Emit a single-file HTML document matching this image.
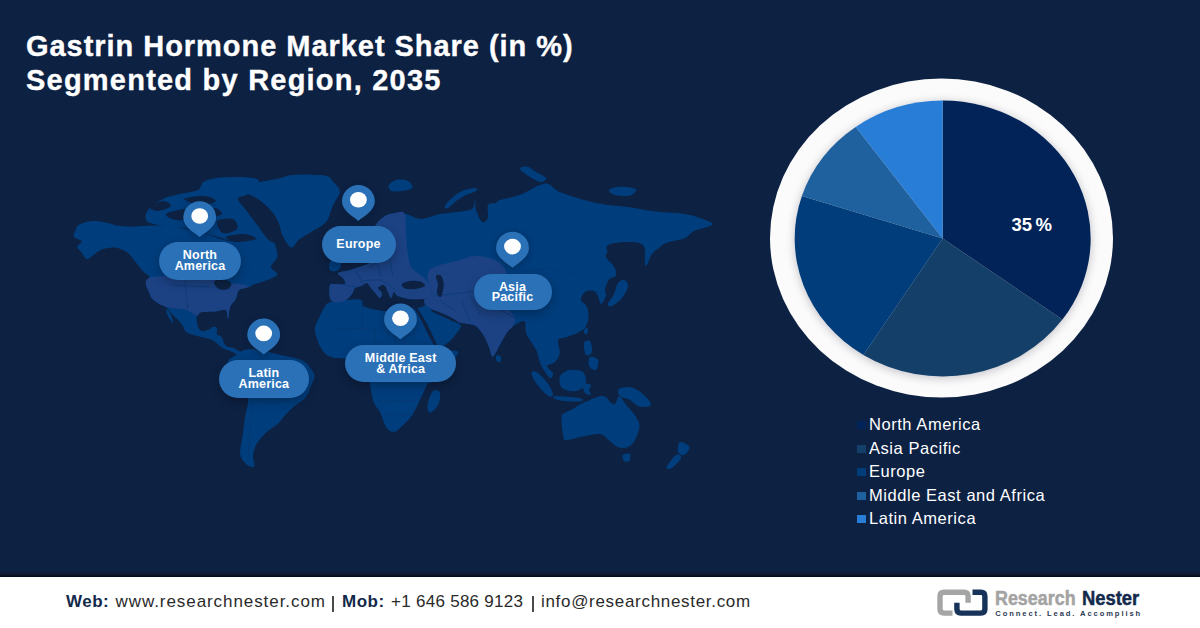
<!DOCTYPE html>
<html><head><meta charset="utf-8">
<style>
html,body{margin:0;padding:0}
body{width:1200px;height:628px;overflow:hidden;position:relative;background:#0d2143;font-family:"Liberation Sans",sans-serif}
#title{position:absolute;left:26px;top:28.7px;color:#fff;font-weight:bold;font-size:29px;line-height:34.8px;letter-spacing:0.96px;white-space:nowrap;-webkit-text-stroke:0.35px #fff}
#map{position:absolute;left:0;top:0}
.pill{position:absolute;background:#2b71b7;border-radius:20px;color:#fff;font-weight:bold;font-size:12.5px;line-height:10.8px;letter-spacing:0.2px;text-align:center;display:flex;align-items:center;justify-content:center;box-shadow:0 4px 10px rgba(0,0,0,0.25)}
#pie{position:absolute;left:0;top:0}
#legend{position:absolute;left:857px;top:413px;color:#fff;font-size:16.5px;line-height:23.5px;letter-spacing:0.55px}
#legend div{position:relative;padding-left:12px;white-space:nowrap}
#legend i{position:absolute;left:0;top:8px;width:9px;height:8px}
#footer{position:absolute;left:0;top:576.5px;width:1200px;height:52px;background:#fff}
.ft{position:absolute;top:591.5px;font-size:17px;line-height:20px;color:#2a2a2a;white-space:nowrap}
.bar{position:absolute;top:595.5px;width:1.4px;height:16px;background:#4a4a4a}
</style></head><body>
<div id="title">Gastrin Hormone Market Share (in %)<br><span style="letter-spacing:1.22px">Segmented by Region, 2035</span></div>

<svg id="map" width="1200" height="628" viewBox="0 0 1200 628">
<defs><filter id="soft" x="-5%" y="-5%" width="110%" height="110%"><feGaussianBlur stdDeviation="0.6"/></filter></defs>
<g id="land" filter="url(#soft)">
<g fill="#023e7b">
<path d="M79.5,224.5C82.3,223.2 87.9,221.3 92.9,221.1C97.9,220.9 105.5,222.7 109.6,223.4C113.7,224.2 113.7,225.1 117.4,225.6C121.1,226.1 125.8,226.7 131.9,226.7C138.0,226.7 147.6,225.7 154.2,225.6C160.8,225.5 166.4,225.4 171.5,226.0C176.6,226.6 180.6,228.2 185.0,229.0C189.4,229.8 193.5,229.8 198.0,231.0C202.5,232.2 207.0,234.3 212.0,236.0C217.0,237.7 222.3,240.2 228.0,241.0C233.7,241.8 241.0,241.0 246.0,241.0C251.0,241.0 253.7,241.2 258.0,241.0C262.3,240.8 268.8,237.6 272.0,240.0C275.2,242.4 277.6,251.2 277.4,255.7C277.2,260.2 271.0,263.7 271.0,266.9C271.0,270.1 278.9,272.3 277.4,274.8C275.9,277.3 265.8,280.5 262.0,282.0C258.2,283.5 256.9,283.2 254.7,284.0C252.5,284.8 251.6,286.0 249.0,287.0C246.4,288.0 241.3,288.0 239.1,290.0C236.9,292.0 237.3,296.1 235.8,298.9C234.3,301.7 231.5,303.3 230.2,306.7C228.9,310.1 228.7,318.4 228.0,319.0C227.3,319.6 227.7,311.3 225.8,310.0C224.0,308.7 221.0,310.8 216.9,311.2C212.8,311.6 204.7,311.6 201.3,312.3C198.0,313.0 197.4,313.2 196.8,315.6C196.2,318.0 197.0,324.2 197.9,326.8C198.8,329.4 200.4,330.8 202.4,331.2C204.4,331.6 208.5,329.7 210.2,329.0C211.9,328.3 211.3,327.0 212.4,326.8C213.5,326.6 216.2,326.6 216.9,327.9C217.7,329.2 216.2,333.1 216.9,334.6C217.6,336.1 219.8,335.0 221.3,336.8C222.8,338.6 223.8,343.8 225.8,345.7C227.9,347.6 231.2,346.9 233.6,348.0C236.0,349.1 239.1,350.8 240.0,352.0C240.9,353.2 240.7,355.2 239.1,355.0C237.5,354.8 233.0,352.2 230.2,351.0C227.4,349.8 225.4,349.8 222.4,348.0C219.4,346.2 216.1,342.0 212.4,340.1C208.7,338.2 204.4,338.1 200.1,336.8C195.8,335.5 190.0,334.5 186.8,332.3C183.7,330.1 183.7,326.4 181.2,323.4C178.7,320.3 174.6,316.8 172.0,314.0C169.4,311.2 168.2,308.6 165.6,306.7C163.0,304.8 159.3,304.3 156.7,302.3C154.1,300.3 151.2,298.6 150.0,294.5C148.8,290.4 150.9,281.9 149.7,278.0C148.5,274.1 145.6,274.3 143.0,271.3C140.4,268.3 136.7,263.3 134.1,260.2C131.5,257.1 130.2,254.4 127.4,252.4C124.6,250.4 120.7,248.7 117.4,247.9C114.1,247.2 110.6,247.4 107.4,247.9C104.2,248.4 101.8,249.3 98.4,251.2C95.1,253.0 90.1,258.8 87.3,259.0C84.5,259.2 83.4,254.4 81.7,252.4C80.0,250.4 77.3,248.7 77.3,246.8C77.3,244.9 82.3,242.9 81.7,241.2C81.1,239.5 74.8,238.8 73.9,236.8C73.0,234.8 75.2,231.1 76.1,229.0C77.0,226.9 76.7,225.8 79.5,224.5Z"/>
<path d="M166.7,309.0C167.2,308.8 168.9,310.8 170.0,313.0C171.1,315.2 173.2,321.0 173.4,322.3C173.6,323.6 172.1,322.4 171.0,321.0C169.9,319.6 167.7,316.0 167.0,314.0C166.3,312.0 166.2,309.2 166.7,309.0Z"/>
<path d="M242.5,191.8C243.0,190.0 247.8,186.0 253.7,183.9C259.6,181.8 271.0,180.6 277.6,179.1C284.2,177.6 285.5,175.6 293.5,175.1C301.5,174.6 318.8,174.7 325.4,175.9C332.0,177.1 330.9,179.7 333.3,182.3C335.7,185.0 339.8,187.9 339.7,191.8C339.6,195.8 334.8,201.0 332.5,206.0C330.2,211.0 329.4,217.6 326.0,221.8C322.6,226.0 316.3,228.5 311.8,231.4C307.3,234.3 302.5,236.8 299.0,239.4C295.5,242.1 293.8,248.1 291.0,247.3C288.2,246.5 284.4,238.7 282.4,234.8C280.4,230.9 280.8,227.4 279.2,223.7C277.6,220.0 275.7,216.2 272.8,212.5C269.9,208.8 265.4,204.3 261.7,201.4C258.0,198.5 253.7,196.6 250.5,195.0C247.3,193.4 242.0,193.7 242.5,191.8Z"/>
<path d="M146.0,214.0C146.7,211.3 148.8,208.7 152.0,206.0C155.2,203.3 160.3,200.0 165.0,198.0C169.7,196.0 174.5,195.3 180.0,194.0C185.5,192.7 193.8,192.2 198.0,190.0C202.2,187.8 200.0,183.2 205.0,181.0C210.0,178.8 219.3,177.3 228.0,177.0C236.7,176.7 252.3,176.8 257.0,179.0C261.7,181.2 258.0,187.0 256.0,190.0C254.0,193.0 244.7,193.7 245.0,197.0C245.3,200.3 254.5,204.8 258.0,210.0C261.5,215.2 264.0,222.5 266.0,228.0C268.0,233.5 274.3,240.5 270.0,243.0C265.7,245.5 249.2,244.2 240.0,243.0C230.8,241.8 223.3,238.3 215.0,236.0C206.7,233.7 198.3,230.7 190.0,229.0C181.7,227.3 172.0,227.2 165.0,226.0C158.0,224.8 151.2,224.0 148.0,222.0C144.8,220.0 145.3,216.7 146.0,214.0Z"/>
<path d="M239.0,352.0C241.3,351.0 245.7,349.2 250.0,349.0C254.3,348.8 260.0,350.0 265.0,351.0C270.0,352.0 275.0,353.8 280.0,355.0C285.0,356.2 290.8,356.8 295.0,358.0C299.2,359.2 302.3,360.2 305.0,362.0C307.7,363.8 309.4,366.7 311.0,369.0C312.6,371.3 314.5,373.2 314.5,376.0C314.5,378.8 312.5,382.4 311.0,386.0C309.5,389.6 308.2,394.3 305.3,397.7C302.4,401.1 297.2,403.6 293.8,406.6C290.4,409.6 287.4,412.7 284.8,415.5C282.2,418.3 281.2,420.6 278.5,423.2C275.8,425.8 271.3,428.2 268.3,430.8C265.3,433.4 262.7,435.9 260.6,438.5C258.5,441.1 256.8,443.1 255.5,446.1C254.2,449.1 253.2,452.9 253.0,456.3C252.8,459.7 255.4,465.2 254.2,466.5C253.0,467.8 248.3,466.1 246.0,464.0C243.7,461.9 240.7,458.7 240.2,453.8C239.7,448.9 242.0,441.0 242.8,434.6C243.7,428.2 244.5,421.4 245.3,415.5C246.2,409.6 248.8,404.0 247.9,398.9C247.0,393.8 242.7,389.8 240.0,385.0C237.3,380.2 234.0,374.0 232.0,370.0C230.0,366.0 227.3,363.5 228.0,361.0C228.7,358.5 234.2,356.5 236.0,355.0C237.8,353.5 236.7,353.0 239.0,352.0Z"/>
<path d="M330.0,285.0C329.0,287.3 329.3,295.2 330.0,298.0C330.7,300.8 332.5,301.2 334.0,302.0C335.5,302.8 337.0,302.8 339.0,302.5C341.0,302.2 343.8,301.4 346.0,300.0C348.2,298.6 350.5,296.0 352.0,294.0C353.5,292.0 353.5,289.3 355.0,288.0C356.5,286.7 359.0,286.8 361.0,286.0C363.0,285.2 365.3,282.7 367.0,283.0C368.7,283.3 369.5,286.2 371.0,288.0C372.5,289.8 374.5,292.3 376.0,294.0C377.5,295.7 379.0,298.2 380.0,298.0C381.0,297.8 382.3,294.7 382.0,293.0C381.7,291.3 377.7,289.3 378.0,288.0C378.3,286.7 382.3,284.3 384.0,285.0C385.7,285.7 386.8,289.8 388.0,292.0C389.2,294.2 390.0,298.0 391.0,298.0C392.0,298.0 392.8,292.3 394.0,292.0C395.2,291.7 395.3,294.8 398.0,296.0C400.7,297.2 406.0,298.5 410.0,299.0C414.0,299.5 419.2,298.7 422.0,299.0C424.8,299.3 426.7,299.8 427.0,301.0C427.3,302.2 425.8,304.7 424.0,306.0C422.2,307.3 416.7,307.8 416.0,309.0C415.3,310.2 418.7,311.2 420.0,313.0C421.3,314.8 422.3,316.5 424.0,320.0C425.7,323.5 428.0,329.8 430.0,334.0C432.0,338.2 434.3,342.7 436.0,345.0C437.7,347.3 437.7,348.7 440.0,348.0C442.3,347.3 447.3,343.3 450.0,341.0C452.7,338.7 454.2,336.5 456.0,334.0C457.8,331.5 461.0,328.0 461.0,326.0C461.0,324.0 456.5,322.7 456.0,322.0C455.5,321.3 456.0,321.7 458.0,322.0C460.0,322.3 465.2,323.4 468.0,324.0C470.8,324.6 473.2,324.6 475.0,325.4C476.8,326.2 477.5,327.2 479.0,329.0C480.5,330.8 482.3,333.0 484.0,336.0C485.7,339.0 487.6,343.6 489.0,347.0C490.4,350.4 491.1,355.6 492.3,356.4C493.5,357.2 494.4,354.6 496.0,352.0C497.6,349.4 500.0,344.5 502.0,341.0C504.0,337.5 506.3,333.3 508.0,331.0C509.7,328.7 510.0,328.5 512.0,327.0C514.0,325.5 517.8,322.8 520.0,322.0C522.2,321.2 523.9,320.0 525.0,322.0C526.1,324.0 524.7,329.4 526.5,334.0C528.3,338.6 533.9,345.4 536.0,349.6C538.1,353.8 538.0,356.1 539.0,359.0C540.0,361.9 540.2,363.8 542.0,367.0C543.8,370.2 548.2,377.0 550.0,378.0C551.8,379.0 553.5,375.0 553.0,373.0C552.5,371.0 546.7,367.8 547.0,366.0C547.3,364.2 552.9,364.2 555.0,362.0C557.1,359.8 559.3,356.5 559.8,352.8C560.3,349.1 556.9,342.7 558.2,340.0C559.5,337.3 563.5,338.7 567.7,336.8C572.0,334.9 580.2,332.1 583.7,328.9C587.2,325.7 587.9,321.4 588.4,317.7C588.9,314.0 588.0,309.6 586.8,306.6C585.6,303.7 581.3,302.4 581.0,300.0C580.7,297.6 582.8,293.5 585.0,292.0C587.2,290.5 591.8,290.3 594.0,291.0C596.2,291.7 596.8,293.8 598.0,296.0C599.2,298.2 599.7,304.0 601.0,304.0C602.3,304.0 605.3,298.3 606.0,296.0C606.7,293.7 604.5,292.8 605.0,290.0C605.5,287.2 607.2,281.9 609.0,279.5C610.8,277.1 614.9,277.9 615.8,275.8C616.7,273.8 616.1,270.5 614.4,267.2C612.7,263.9 605.7,259.3 605.8,255.8C605.9,252.3 611.3,248.1 615.0,246.0C618.7,243.9 623.8,243.2 628.0,243.0C632.2,242.8 637.3,243.0 640.0,245.0C642.7,247.0 643.0,251.5 644.0,255.0C645.0,258.5 644.7,266.2 646.0,266.0C647.3,265.8 649.8,257.0 652.0,254.0C654.2,251.0 656.7,249.8 659.0,248.0C661.3,246.2 661.7,244.7 666.0,243.0C670.3,241.3 680.3,240.0 685.0,238.0C689.7,236.0 689.4,233.2 694.0,231.0C698.6,228.8 711.6,226.8 712.6,224.6C713.6,222.4 705.0,219.8 700.0,218.0C695.0,216.2 690.2,214.6 682.5,213.5C674.8,212.4 662.8,212.3 653.5,211.2C644.2,210.1 635.0,207.9 626.8,206.8C618.6,205.7 611.8,205.7 604.5,204.5C597.2,203.3 590.8,201.9 583.3,199.8C575.8,197.7 565.2,194.5 559.4,191.8C553.6,189.2 551.8,185.0 548.3,183.9C544.8,182.8 543.5,183.7 538.7,185.5C533.9,187.3 526.1,192.6 519.6,195.0C513.1,197.4 504.0,198.7 500.0,200.0C496.0,201.3 497.7,202.2 495.7,203.0C493.7,203.8 489.3,202.5 488.0,205.0C486.7,207.5 488.8,215.2 487.8,218.0C486.8,220.8 484.0,223.3 482.0,222.0C480.0,220.7 477.2,213.7 476.0,210.0C474.8,206.3 475.7,200.2 475.0,200.0C474.3,199.8 475.2,206.9 471.8,209.0C468.4,211.1 460.3,211.4 454.7,212.3C449.1,213.2 443.6,213.5 438.0,214.6C432.4,215.7 426.9,219.2 421.3,219.0C415.7,218.8 409.2,214.4 404.6,213.5C400.0,212.6 396.7,213.1 393.4,213.5C390.1,213.9 387.8,214.3 385.0,216.0C382.2,217.7 378.9,220.3 376.7,223.5C374.5,226.7 372.4,230.9 372.0,235.0C371.6,239.1 372.7,244.5 374.0,248.0C375.3,251.5 380.3,253.7 380.0,256.0C379.7,258.3 375.0,260.3 372.0,262.0C369.0,263.7 365.7,264.7 362.0,266.0C358.3,267.3 354.0,268.8 350.0,270.0C346.0,271.2 339.2,271.7 338.0,273.0C336.8,274.3 341.8,276.2 343.0,278.0C344.2,279.8 346.2,283.0 345.0,284.0C343.8,285.0 338.5,283.8 336.0,284.0C333.5,284.2 331.0,282.7 330.0,285.0Z"/>
<path d="M324.0,308.0C325.6,305.6 326.1,303.6 329.0,302.4C331.9,301.1 336.4,301.0 341.5,300.5C346.6,300.0 356.0,298.6 359.7,299.6C363.4,300.6 360.6,304.6 363.5,306.3C366.4,308.0 373.2,309.2 377.0,310.0C380.8,310.8 382.7,310.9 386.5,311.0C390.3,311.1 395.6,310.8 400.0,310.5C404.4,310.2 410.0,308.6 413.0,309.0C416.0,309.4 416.2,310.2 418.0,313.0C419.8,315.8 422.0,321.8 424.0,326.0C426.0,330.2 428.0,334.5 430.0,338.0C432.0,341.5 433.3,345.0 436.0,347.0C438.7,349.0 442.3,349.2 446.0,350.0C449.7,350.8 457.0,350.0 458.0,352.0C459.0,354.0 454.7,358.3 452.0,362.0C449.3,365.7 445.3,370.7 442.0,374.0C438.7,377.3 434.4,380.3 432.0,382.0C429.6,383.7 429.1,381.9 427.5,384.0C425.9,386.1 424.9,389.5 422.4,394.7C419.8,399.9 415.9,409.6 412.2,415.1C408.5,420.7 403.0,425.2 400.0,428.0C397.0,430.8 396.5,431.7 394.3,431.7C392.1,431.7 389.1,431.2 386.7,427.9C384.3,424.6 382.1,416.2 380.0,412.0C377.9,407.8 375.7,406.9 374.0,402.4C372.3,397.9 370.9,390.1 370.0,385.0C369.1,379.9 369.6,375.8 368.8,372.0C368.0,368.2 368.0,364.2 365.0,362.0C362.0,359.8 356.0,359.7 351.0,359.0C346.0,358.3 339.2,358.8 335.0,358.0C330.8,357.2 328.1,356.1 325.5,354.0C322.9,351.9 321.1,348.1 319.6,345.4C318.1,342.7 317.5,340.7 316.7,337.8C315.9,334.9 314.3,331.7 314.8,328.2C315.3,324.7 318.1,320.2 319.6,316.8C321.1,313.4 322.4,310.4 324.0,308.0Z"/>
<path d="M433.0,391.0C435.1,389.0 439.2,390.7 440.0,393.0C440.8,395.3 439.7,401.7 438.0,405.0C436.3,408.3 431.8,412.6 430.0,412.6C428.2,412.6 427.0,408.6 427.5,405.0C428.0,401.4 430.9,393.0 433.0,391.0Z"/>
<path d="M330.0,262.0C331.2,260.0 335.2,257.3 337.0,258.0C338.8,258.7 341.2,263.8 341.0,266.0C340.8,268.2 337.8,270.3 336.0,271.0C334.2,271.7 331.0,271.5 330.0,270.0C329.0,268.5 328.8,264.0 330.0,262.0Z"/>
<path d="M388.5,186.0C389.2,184.2 392.8,180.8 396.0,180.0C399.2,179.2 405.3,179.7 408.0,181.0C410.7,182.3 413.4,186.3 412.4,188.0C411.4,189.7 405.4,190.5 402.0,191.0C398.6,191.5 394.2,191.8 392.0,191.0C389.8,190.2 387.8,187.8 388.5,186.0Z"/>
<path d="M444.8,206.2C445.5,204.5 449.1,200.5 452.0,198.0C454.9,195.5 458.2,192.7 462.0,191.0C465.8,189.3 472.7,187.9 475.0,187.9C477.3,187.9 477.8,189.7 476.0,191.0C474.2,192.3 467.5,194.2 464.0,196.0C460.5,197.8 457.7,200.0 455.0,202.0C452.3,204.0 449.7,207.3 448.0,208.0C446.3,208.7 444.1,207.9 444.8,206.2Z"/>
<path d="M520.0,169.0C519.5,167.2 524.3,166.0 527.0,166.5C529.7,167.0 532.8,170.1 536.0,172.0C539.2,173.9 545.2,176.3 546.0,178.0C546.8,179.7 543.7,182.2 541.0,182.0C538.3,181.8 533.5,179.2 530.0,177.0C526.5,174.8 520.5,170.8 520.0,169.0Z"/>
<path d="M609.0,190.0C609.8,188.6 615.5,186.9 620.0,186.7C624.5,186.5 634.0,187.5 635.7,189.0C637.4,190.5 633.5,194.6 630.0,195.6C626.5,196.6 618.5,195.9 615.0,195.0C611.5,194.1 608.2,191.4 609.0,190.0Z"/>
<path d="M497.0,355.0C497.8,354.5 500.5,355.8 501.0,357.0C501.5,358.2 500.8,361.5 500.0,362.0C499.2,362.5 496.5,361.2 496.0,360.0C495.5,358.8 496.2,355.5 497.0,355.0Z"/>
<path d="M585.0,328.0C585.7,327.3 587.7,328.0 588.0,329.0C588.3,330.0 587.7,333.3 587.0,334.0C586.3,334.7 584.3,334.0 584.0,333.0C583.7,332.0 584.3,328.7 585.0,328.0Z"/>
<path d="M584.0,343.0C584.7,340.7 588.7,339.5 590.0,341.0C591.3,342.5 592.7,349.7 592.0,352.0C591.3,354.3 587.3,356.5 586.0,355.0C584.7,353.5 583.3,345.3 584.0,343.0Z"/>
<path d="M590.0,357.0C591.5,356.0 597.0,357.8 598.0,360.0C599.0,362.2 597.5,369.0 596.0,370.0C594.5,371.0 590.0,368.2 589.0,366.0C588.0,363.8 588.5,358.0 590.0,357.0Z"/>
<path d="M560.0,376.0C561.3,373.0 566.2,370.7 570.0,370.0C573.8,369.3 580.4,369.7 583.0,372.0C585.6,374.3 586.7,380.8 585.5,384.0C584.3,387.2 579.9,390.3 576.0,391.0C572.1,391.7 564.7,390.5 562.0,388.0C559.3,385.5 558.7,379.0 560.0,376.0Z"/>
<path d="M531.8,371.8C532.6,371.0 535.3,371.0 538.0,373.0C540.7,375.0 545.5,380.5 548.0,384.0C550.5,387.5 552.8,391.9 553.0,394.0C553.2,396.1 551.2,397.3 549.0,396.3C546.8,395.3 542.7,391.1 540.0,388.0C537.3,384.9 534.4,380.7 533.0,378.0C531.6,375.3 531.0,372.6 531.8,371.8Z"/>
<path d="M554.5,396.3C557.0,396.0 565.3,396.6 570.0,397.0C574.7,397.4 580.8,398.2 582.5,399.0C584.2,399.8 582.9,401.2 580.0,401.5C577.1,401.8 569.2,401.4 565.0,401.0C560.8,400.6 556.8,399.8 555.0,399.0C553.2,398.2 552.0,396.6 554.5,396.3Z"/>
<path d="M583.0,384.0C584.0,382.7 590.0,384.0 591.0,385.0C592.0,386.0 589.0,388.4 589.0,390.0C589.0,391.6 591.7,394.0 591.0,394.5C590.3,395.0 586.3,394.8 585.0,393.0C583.7,391.2 582.0,385.3 583.0,384.0Z"/>
<path d="M619.0,389.0C621.0,387.6 627.7,386.3 632.0,387.5C636.3,388.7 641.9,393.1 645.0,396.0C648.1,398.9 651.6,403.2 650.8,405.0C650.0,406.8 643.5,407.6 640.0,406.8C636.5,406.0 633.3,401.8 630.0,400.0C626.7,398.2 621.8,397.8 620.0,396.0C618.2,394.2 617.0,390.4 619.0,389.0Z"/>
<path d="M618.0,283.0C619.7,280.7 622.3,279.5 624.0,280.0C625.7,280.5 628.3,283.0 628.0,286.0C627.7,289.0 624.7,294.7 622.0,298.0C619.3,301.3 614.3,305.0 612.0,306.0C609.7,307.0 607.7,306.0 608.0,304.0C608.3,302.0 612.3,297.5 614.0,294.0C615.7,290.5 616.3,285.3 618.0,283.0Z"/>
<path d="M561.5,417.3C561.5,413.5 561.2,415.3 563.3,413.8C565.3,412.3 570.6,410.2 573.8,408.5C577.0,406.8 578.1,405.3 582.5,403.3C586.9,401.3 595.9,397.2 600.0,396.3C604.1,395.4 605.3,397.1 607.0,398.0C608.7,398.9 608.7,401.0 610.0,402.0C611.3,403.0 613.5,404.9 615.0,404.0C616.5,403.1 617.4,396.1 619.3,396.3C621.2,396.5 623.7,401.8 626.3,405.0C628.9,408.2 632.8,412.0 635.0,415.5C637.2,419.0 639.5,421.9 639.5,426.0C639.5,430.1 636.9,436.5 635.0,440.0C633.1,443.5 630.9,445.8 628.0,447.0C625.1,448.2 620.8,448.2 617.6,447.0C614.4,445.8 611.7,442.2 608.8,440.0C605.9,437.8 604.4,434.6 600.0,434.0C595.6,433.4 588.0,435.5 582.5,436.5C577.0,437.5 570.0,440.0 566.8,440.0C563.6,440.0 564.2,440.3 563.3,436.5C562.4,432.7 561.5,421.1 561.5,417.3Z"/>
<path d="M622.8,455.0C623.8,453.8 629.0,453.0 630.0,454.0C631.0,455.0 630.0,459.8 629.0,461.0C628.0,462.2 625.0,462.0 624.0,461.0C623.0,460.0 621.8,456.2 622.8,455.0Z"/>
<path d="M680.0,442.0C681.9,441.2 688.7,444.8 689.4,447.0C690.1,449.2 685.9,454.2 684.0,455.0C682.1,455.8 678.7,454.2 678.0,452.0C677.3,449.8 678.1,442.8 680.0,442.0Z"/>
<path d="M676.0,455.0C678.4,453.5 681.7,455.8 681.0,458.0C680.3,460.2 674.4,466.5 672.0,468.0C669.6,469.5 665.9,469.2 666.6,467.0C667.3,464.8 673.6,456.5 676.0,455.0Z"/>
</g>
<g fill="#1a4384">
<path d="M150.8,277.2C161.1,274.3 199.5,276.2 211.7,277.2C223.9,278.2 219.3,281.9 224.0,283.0C228.7,284.1 235.8,283.3 240.0,284.0C244.2,284.7 249.2,286.0 249.0,287.0C248.8,288.0 241.3,288.0 239.1,290.0C236.9,292.0 237.3,296.1 235.8,298.9C234.3,301.7 231.5,303.3 230.2,306.7C228.9,310.1 228.7,318.4 228.0,319.0C227.3,319.6 227.7,311.3 225.8,310.0C224.0,308.7 221.0,310.8 216.9,311.2C212.8,311.6 204.7,311.6 201.3,312.3C198.0,313.0 199.2,316.0 196.8,315.6C194.4,315.2 189.8,311.1 186.8,310.0C183.8,308.9 182.5,309.6 179.0,309.0C175.5,308.4 169.3,307.8 165.6,306.7C161.9,305.6 159.3,304.3 156.7,302.3C154.1,300.3 151.0,298.7 150.0,294.5C149.0,290.3 140.5,280.1 150.8,277.2Z"/>
<path d="M330.0,285.0C329.0,287.3 329.3,295.2 330.0,298.0C330.7,300.8 332.5,301.2 334.0,302.0C335.5,302.8 337.0,302.8 339.0,302.5C341.0,302.2 343.8,301.4 346.0,300.0C348.2,298.6 350.5,296.0 352.0,294.0C353.5,292.0 353.5,289.3 355.0,288.0C356.5,286.7 359.0,286.8 361.0,286.0C363.0,285.2 365.3,282.7 367.0,283.0C368.7,283.3 369.5,286.2 371.0,288.0C372.5,289.8 374.5,292.3 376.0,294.0C377.5,295.7 379.0,298.2 380.0,298.0C381.0,297.8 382.3,294.7 382.0,293.0C381.7,291.3 377.7,289.3 378.0,288.0C378.3,286.7 382.3,284.3 384.0,285.0C385.7,285.7 386.8,289.8 388.0,292.0C389.2,294.2 390.0,298.0 391.0,298.0C392.0,298.0 392.8,292.3 394.0,292.0C395.2,291.7 395.3,294.8 398.0,296.0C400.7,297.2 406.0,298.5 410.0,299.0C414.0,299.5 419.0,299.2 422.0,299.0C425.0,298.8 426.3,299.5 428.0,298.0C429.7,296.5 432.5,293.2 432.0,290.0C431.5,286.8 428.3,282.7 425.0,279.0C421.7,275.3 414.8,272.0 412.0,268.0C409.2,264.0 409.0,260.5 408.0,255.0C407.0,249.5 406.6,241.9 406.0,235.0C405.4,228.1 406.7,217.1 404.6,213.5C402.5,209.9 396.7,213.1 393.4,213.5C390.1,213.9 387.8,214.3 385.0,216.0C382.2,217.7 378.9,220.3 376.7,223.5C374.5,226.7 372.4,230.9 372.0,235.0C371.6,239.1 372.7,244.5 374.0,248.0C375.3,251.5 380.3,253.7 380.0,256.0C379.7,258.3 375.0,260.3 372.0,262.0C369.0,263.7 365.7,264.7 362.0,266.0C358.3,267.3 354.0,268.8 350.0,270.0C346.0,271.2 339.2,271.7 338.0,273.0C336.8,274.3 341.8,276.2 343.0,278.0C344.2,279.8 346.2,283.0 345.0,284.0C343.8,285.0 338.5,283.8 336.0,284.0C333.5,284.2 331.0,282.7 330.0,285.0Z"/>
<path d="M424.0,300.0C424.3,298.8 426.7,299.7 428.0,298.0C429.3,296.3 432.0,292.8 432.0,290.0C432.0,287.2 428.2,284.6 428.0,281.0C427.8,277.4 426.3,271.9 431.0,268.6C435.7,265.3 448.8,263.1 456.4,261.0C464.0,258.9 470.0,255.9 476.8,255.9C483.6,255.9 492.1,258.3 497.0,261.0C501.9,263.7 505.5,267.2 506.0,272.0C506.5,276.8 500.2,284.5 500.0,290.0C499.8,295.5 502.5,300.3 505.0,305.0C507.5,309.7 513.8,314.3 515.0,318.0C516.2,321.7 513.2,324.8 512.0,327.0C510.8,329.2 509.7,328.7 508.0,331.0C506.3,333.3 504.0,337.5 502.0,341.0C500.0,344.5 497.6,349.4 496.0,352.0C494.4,354.6 493.5,357.2 492.3,356.4C491.1,355.6 490.4,350.4 489.0,347.0C487.6,343.6 485.7,339.0 484.0,336.0C482.3,333.0 480.5,330.8 479.0,329.0C477.5,327.2 476.8,326.2 475.0,325.4C473.2,324.6 470.8,324.6 468.0,324.0C465.2,323.4 461.7,323.3 458.0,322.0C454.3,320.7 450.0,318.0 446.0,316.0C442.0,314.0 437.3,311.8 434.0,310.0C430.7,308.2 427.7,306.7 426.0,305.0C424.3,303.3 423.7,301.2 424.0,300.0Z"/>
</g>
<g fill="none" stroke="#0a3670" stroke-width="0.8" stroke-opacity="0.85" stroke-linejoin="round">
<path d="M338.0,284.0 L347.0,285.0 L355.0,287.0"/>
<path d="M356.0,271.0 L360.0,278.0 L362.0,284.0"/>
<path d="M377.0,262.0 L379.0,270.0 L381.0,277.0"/>
<path d="M390.0,258.0 L391.0,267.0 L393.0,276.0"/>
<path d="M362.0,281.0 L371.0,280.0 L381.0,280.0"/>
<path d="M381.0,280.0 L388.0,284.0 L395.0,290.0"/>
<path d="M369.0,268.0 L378.0,262.0"/>
<path d="M433.0,296.0 L452.0,294.0 L470.0,292.0 L500.0,286.0"/>
<path d="M440.0,300.0 L448.0,306.0 L455.0,311.0"/>
<path d="M462.0,300.0 L466.0,312.0 L470.0,322.0"/>
<path d="M471.0,296.0 L476.0,306.0 L481.0,316.0"/>
<path d="M490.0,306.0 L502.0,311.0 L515.0,318.0"/>
<path d="M520.0,272.0 L548.0,268.0 L580.0,276.0"/>
<path d="M334.0,329.0 L350.0,329.0 L375.0,328.0"/>
<path d="M362.6,300.0 L362.6,314.0 L362.6,328.0"/>
<path d="M375.0,328.0 L375.0,338.0 L375.0,347.0"/>
<path d="M395.0,308.0 L395.0,326.0 L395.0,345.0"/>
<path d="M414.0,305.0 L414.0,325.0 L414.0,345.0"/>
<path d="M372.0,402.0 L395.0,401.0 L420.0,400.0"/>
<path d="M385.0,415.0 L398.0,416.0 L410.0,415.0"/>
<path d="M252.0,400.0 L250.0,430.0 L248.0,460.0"/>
<path d="M255.0,400.0 L272.0,402.0 L290.0,400.0"/>
<path d="M170.0,285.0 L190.0,286.0 L211.0,287.0"/>
<path d="M185.0,278.0 L186.0,295.0 L188.0,309.0"/>
</g>
<g fill="#0d2143">
<path d="M217.0,221.0C218.7,218.7 229.7,217.7 233.0,219.0C236.3,220.3 238.7,226.7 237.0,229.0C235.3,231.3 226.3,234.3 223.0,233.0C219.7,231.7 215.3,223.3 217.0,221.0Z"/>
<path d="M226.0,237.0C227.3,235.7 239.0,233.7 244.0,234.0C249.0,234.3 257.3,237.7 256.0,239.0C254.7,240.3 241.0,242.3 236.0,242.0C231.0,241.7 224.7,238.3 226.0,237.0Z"/>
<path d="M166.0,214.0C167.5,212.2 179.0,209.5 185.0,209.0C191.0,208.5 200.2,209.5 202.0,211.0C203.8,212.5 200.3,216.5 196.0,218.0C191.7,219.5 181.0,220.7 176.0,220.0C171.0,219.3 164.5,215.8 166.0,214.0Z"/>
<path d="M184.0,199.0C184.5,197.5 198.7,195.7 204.0,196.0C209.3,196.3 216.5,199.5 216.0,201.0C215.5,202.5 206.3,205.3 201.0,205.0C195.7,204.7 183.5,200.5 184.0,199.0Z"/>
<path d="M150.0,207.0C150.8,205.3 159.5,201.2 163.0,201.0C166.5,200.8 171.8,204.3 171.0,206.0C170.2,207.7 161.5,210.8 158.0,211.0C154.5,211.2 149.2,208.7 150.0,207.0Z"/>
<path d="M205.0,212.0C205.8,210.5 212.2,207.7 215.0,208.0C217.8,208.3 222.8,212.5 222.0,214.0C221.2,215.5 212.8,217.3 210.0,217.0C207.2,216.7 204.2,213.5 205.0,212.0Z"/>
<path d="M238.0,198.0C239.3,195.7 250.0,194.8 254.0,196.0C258.0,197.2 259.0,200.7 262.0,205.0C265.0,209.3 269.2,216.2 272.0,222.0C274.8,227.8 279.3,236.8 279.0,240.0C278.7,243.2 273.5,243.3 270.0,241.0C266.5,238.7 262.0,231.2 258.0,226.0C254.0,220.8 249.3,214.7 246.0,210.0C242.7,205.3 236.7,200.3 238.0,198.0Z"/>
<path d="M214.0,282.0C214.5,280.3 219.2,278.8 222.0,279.0C224.8,279.2 230.0,281.3 231.0,283.0C232.0,284.7 230.0,288.0 228.0,289.0C226.0,290.0 221.3,290.2 219.0,289.0C216.7,287.8 213.5,283.7 214.0,282.0Z"/>
<path d="M402.0,284.0C402.8,282.8 407.0,281.4 410.0,281.0C413.0,280.6 417.5,280.7 420.0,281.5C422.5,282.3 425.8,284.8 425.0,286.0C424.2,287.2 418.3,288.6 415.0,289.0C411.7,289.4 407.2,289.3 405.0,288.5C402.8,287.7 401.2,285.2 402.0,284.0Z"/>
<path d="M436.0,276.0C436.5,274.6 439.7,274.2 441.0,275.7C442.3,277.2 443.7,281.5 443.7,285.0C443.7,288.5 442.1,295.4 441.0,296.7C439.9,298.0 437.5,295.1 437.0,293.0C436.5,290.9 438.2,286.8 438.0,284.0C437.8,281.2 435.5,277.4 436.0,276.0Z"/>
<path d="M607.0,246.0C609.2,243.3 619.0,242.2 625.0,242.0C631.0,241.8 639.8,241.7 643.0,245.0C646.2,248.3 645.2,257.5 644.0,262.0C642.8,266.5 640.0,271.0 636.0,272.0C632.0,273.0 624.0,270.3 620.0,268.0C616.0,265.7 614.2,261.7 612.0,258.0C609.8,254.3 604.8,248.7 607.0,246.0Z"/>
<path d="M433.0,310.0C435.3,310.6 442.0,313.2 446.0,315.0C450.0,316.8 455.3,319.8 457.0,321.0C458.7,322.2 458.0,323.1 456.0,322.5C454.0,321.9 449.0,319.3 445.0,317.5C441.0,315.7 434.0,312.8 432.0,311.5C430.0,310.2 430.7,309.4 433.0,310.0Z"/>
<path d="M415.0,309.0C413.8,306.2 416.0,307.0 418.0,309.5C420.0,312.0 423.8,318.1 427.0,324.0C430.2,329.9 435.5,341.3 437.0,345.0C438.5,348.7 438.0,349.2 436.0,346.0C434.0,342.8 428.5,332.2 425.0,326.0C421.5,319.8 416.2,311.8 415.0,309.0Z"/>
</g>
<path d="M242.5,191.8C243.0,190.0 247.8,186.0 253.7,183.9C259.6,181.8 271.0,180.6 277.6,179.1C284.2,177.6 285.5,175.6 293.5,175.1C301.5,174.6 318.8,174.7 325.4,175.9C332.0,177.1 330.9,179.7 333.3,182.3C335.7,185.0 339.8,187.9 339.7,191.8C339.6,195.8 334.8,201.0 332.5,206.0C330.2,211.0 329.4,217.6 326.0,221.8C322.6,226.0 316.3,228.5 311.8,231.4C307.3,234.3 302.5,236.8 299.0,239.4C295.5,242.1 293.8,248.1 291.0,247.3C288.2,246.5 284.4,238.7 282.4,234.8C280.4,230.9 280.8,227.4 279.2,223.7C277.6,220.0 275.7,216.2 272.8,212.5C269.9,208.8 265.4,204.3 261.7,201.4C258.0,198.5 253.7,196.6 250.5,195.0C247.3,193.4 242.0,193.7 242.5,191.8Z" fill="#023e7b"/>
</g>
<g id="pins">
<defs><filter id="psh" x="-50%" y="-50%" width="200%" height="200%"><feGaussianBlur stdDeviation="3"/></filter></defs>
<g fill="#081a36" opacity="0.45" filter="url(#psh)">
<path d="M199.7,238.7 C196.2,235.2 183.3,229.1 183.3,219.1 A16.4,16.4 0 0 1 216.1,219.1 C216.1,229.1 203.2,235.2 199.7,238.7Z"/>
<path d="M358.4,222.4 C354.9,218.9 342.0,212.8 342.0,202.8 A16.4,16.4 0 0 1 374.8,202.8 C374.8,212.8 361.9,218.9 358.4,222.4Z"/>
<path d="M512.5,269.3 C509.0,265.8 496.1,259.7 496.1,249.7 A16.4,16.4 0 0 1 528.9,249.7 C528.9,259.7 516.0,265.8 512.5,269.3Z"/>
<path d="M263.7,356.1 C260.2,352.6 247.3,346.5 247.3,336.5 A16.4,16.4 0 0 1 280.1,336.5 C280.1,346.5 267.2,352.6 263.7,356.1Z"/>
<path d="M400.5,340.9 C397.0,337.4 384.1,331.3 384.1,321.3 A16.4,16.4 0 0 1 416.9,321.3 C416.9,331.3 404.0,337.4 400.5,340.9Z"/>
</g>
<path d="M199.7,237.2 C196.2,233.7 183.3,227.6 183.3,217.6 A16.4,16.4 0 0 1 216.1,217.6 C216.1,227.6 203.2,233.7 199.7,237.2Z" fill="#2b71b7"/>
<ellipse cx="199.7" cy="216.0" rx="8.4" ry="7.8" fill="#fff"/>
<path d="M358.4,220.9 C354.9,217.4 342.0,211.3 342.0,201.3 A16.4,16.4 0 0 1 374.8,201.3 C374.8,211.3 361.9,217.4 358.4,220.9Z" fill="#2b71b7"/>
<ellipse cx="358.4" cy="199.7" rx="8.4" ry="7.8" fill="#fff"/>
<path d="M512.5,267.8 C509.0,264.3 496.1,258.2 496.1,248.2 A16.4,16.4 0 0 1 528.9,248.2 C528.9,258.2 516.0,264.3 512.5,267.8Z" fill="#2b71b7"/>
<ellipse cx="512.5" cy="246.6" rx="8.4" ry="7.8" fill="#fff"/>
<path d="M263.7,354.6 C260.2,351.1 247.3,345.0 247.3,335.0 A16.4,16.4 0 0 1 280.1,335.0 C280.1,345.0 267.2,351.1 263.7,354.6Z" fill="#2b71b7"/>
<ellipse cx="263.7" cy="333.4" rx="8.4" ry="7.8" fill="#fff"/>
<path d="M400.5,339.4 C397.0,335.9 384.1,329.8 384.1,319.8 A16.4,16.4 0 0 1 416.9,319.8 C416.9,329.8 404.0,335.9 400.5,339.4Z" fill="#2b71b7"/>
<ellipse cx="400.5" cy="318.2" rx="8.4" ry="7.8" fill="#fff"/>
</g>
</svg>


<div class="pill" style="left:159px;top:241.5px;width:82px;height:38px">North<br>America</div>
<div class="pill" style="left:321.5px;top:226px;width:74px;height:37px">Europe</div>
<div class="pill" style="left:473.5px;top:274.3px;width:78px;height:36px">Asia<br>Pacific</div>
<div class="pill" style="left:218.7px;top:359.5px;width:90.4px;height:38.5px">Latin<br>America</div>
<div class="pill" style="left:345.4px;top:345px;width:110.6px;height:37px">Middle East<br>&amp; Africa</div>

<svg id="pie" width="1200" height="628" viewBox="0 0 1200 628">
  <defs>
    <radialGradient id="ringsh" cx="0.5" cy="0.5" r="0.5">
      <stop offset="0.86" stop-color="#d8d8dc"/>
      <stop offset="0.9" stop-color="#fafafa"/>
      <stop offset="1" stop-color="#ffffff"/>
    </radialGradient>
  </defs>
  <ellipse cx="941.5" cy="238" rx="171.5" ry="159.5" fill="#fbfbfb"/>
  <filter id="rsh" x="-20%" y="-20%" width="140%" height="140%"><feGaussianBlur stdDeviation="4"/></filter>
  <ellipse cx="942.7" cy="240" rx="149" ry="139" fill="#c9c9cf" filter="url(#rsh)"/>
  <g id="slices">
  <path d="M942.7,238.5 L942.7,100.5 A148,138 0 0 1 1062.4,319.6 Z" fill="#012357"/>
  <path d="M942.7,238.5 L1062.4,319.6 A148,138 0 0 1 863.4,355.0 Z" fill="#143f69"/>
  <path d="M942.7,238.5 L863.4,355.0 A148,138 0 0 1 801.9,195.9 Z" fill="#003d7a"/>
  <path d="M942.7,238.5 L801.9,195.9 A148,138 0 0 1 855.7,126.9 Z" fill="#1f609e"/>
  <path d="M942.7,238.5 L855.7,126.9 A148,138 0 0 1 942.7,100.5 Z" fill="#287dd6"/>
  </g>
  <text x="1011.5" y="231" fill="#fff" font-weight="bold" font-size="18.5">35<tspan dx="3.4">%</tspan></text>
</svg>

<div id="legend">
  <div><i style="background:#012357"></i>North America</div>
  <div><i style="background:#143f69"></i>Asia Pacific</div>
  <div><i style="background:#003d7a"></i>Europe</div>
  <div><i style="background:#1f609e"></i>Middle East and Africa</div>
  <div><i style="background:#287dd6"></i>Latin America</div>
</div>

<div style="position:absolute;left:0;top:571px;width:1200px;height:5.5px;background:linear-gradient(#0d2143,#121b33 50%,#02081a)"></div>
<div id="footer"></div>
<div class="ft" style="left:66px;font-weight:bold;color:#13294b;letter-spacing:0.5px">Web:</div>
<div class="ft" style="left:115.5px;letter-spacing:0.93px">www.researchnester.com</div>
<div class="bar" style="left:332.3px"></div>
<div class="ft" style="left:342px;font-weight:bold;color:#13294b;letter-spacing:0.5px">Mob:</div>
<div class="ft" style="left:391px;letter-spacing:0.28px">+1 646 586 9123</div>
<div class="bar" style="left:532.3px"></div>
<div class="ft" style="left:541px;letter-spacing:0.69px">info@researchnester.com</div>
<svg style="position:absolute;left:0;top:0" width="1200" height="628" viewBox="0 0 1200 628">
  <path d="M952.5,613.1 L944,613.1 Q940,613.1 940,609.1 L940,596.3 Q940,592.3 944,592.3 L964.1,592.3 Q968.1,592.3 968.1,596.3 L968.1,602.8" fill="none" stroke="#a5a5a5" stroke-width="5.4"/>
  <path d="M956.9,602.8 L956.9,609.1 Q956.9,613.1 960.9,613.1 L980.9,613.1 Q984.9,613.1 984.9,609.1 L984.9,596.3 Q984.9,592.3 980.9,592.3 L972.5,592.3" fill="none" stroke="#17335a" stroke-width="5.4"/>
  <text x="995" y="605.3" font-weight="bold" font-size="21" fill="#a3a3a3" stroke="#a3a3a3" stroke-width="0.5" transform="translate(995 0) scale(0.853 1) translate(-995 0)">Research</text>
  <text x="1082" y="605.3" font-weight="bold" font-size="21" fill="#13294b" stroke="#13294b" stroke-width="0.5" transform="translate(1082 0) scale(0.876 1) translate(-1082 0)">Nester</text>
  <text x="995.3" y="616.4" font-weight="bold" font-size="7.6" fill="#2b3a55" letter-spacing="1.9">Connect. Lead. Accomplish</text>
</svg>
</body></html>
